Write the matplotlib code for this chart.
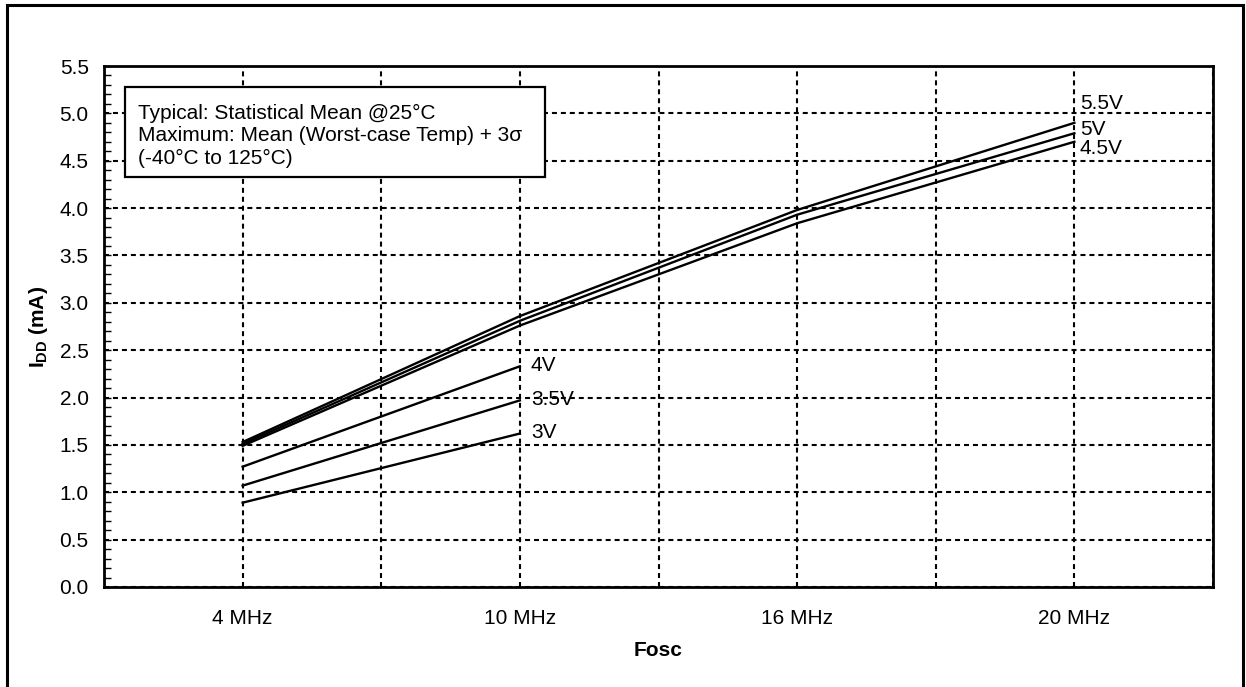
import numpy as np
import matplotlib
matplotlib.use("Agg")
import matplotlib.pyplot as plt
from matplotlib.patches import Rectangle
from matplotlib.ticker import MultipleLocator

plt.rcParams['font.family'] = ['Liberation Sans', 'DejaVu Sans']
plt.rcParams['mathtext.fontset'] = 'custom'
plt.rcParams['mathtext.rm'] = 'Liberation Sans'
plt.rcParams['mathtext.bf'] = 'Liberation Sans:bold'

# ---- data ----
freqs = ["4 MHz", "10 MHz", "16 MHz", "20 MHz"]

v55 = [1.53, 2.86, 3.98, 4.90]
v50 = [1.51, 2.81, 3.93, 4.79]
v45 = [1.49, 2.76, 3.84, 4.70]
v40 = [1.27, 2.33]
v35 = [1.07, 1.97]
v30 = [0.89, 1.62]

series = [("5.5V", v55), ("5V", v50), ("4.5V", v45),
          ("4V", v40), ("3.5V", v35), ("3V", v30)]
# label positions (data units) next to the line ends
label_pos = {"5.5V": (3.02, 5.10), "5V": (3.02, 4.83), "4.5V": (3.02, 4.63),
             "4V": (1.04, 2.34), "3.5V": (1.04, 1.98), "3V": (1.04, 1.63)}

FS = 15
W, H = 1246, 687
fig = plt.figure(figsize=(W / 100, H / 100), dpi=100)
ax = fig.add_axes([104 / W, 1 - 587 / H, (1213 - 104) / W, (587 - 66) / H])

x = np.arange(len(freqs))
for name, vals in series:
    ax.plot(x[:len(vals)], vals, color="black", lw=1.7, zorder=3)
    tx, ty = label_pos[name]
    ax.text(tx, ty, name, fontsize=FS, va="center", ha="left", zorder=4)

ax.set_xlim(-0.5, 3.5)
ax.set_ylim(0, 5.5)
ax.set_xticks(x)
ax.set_xticklabels(freqs)
ax.xaxis.set_minor_locator(MultipleLocator(0.5))
ax.yaxis.set_major_locator(MultipleLocator(0.5))
ax.yaxis.set_minor_locator(MultipleLocator(0.1))
ax.yaxis.set_major_formatter(matplotlib.ticker.FormatStrFormatter("%.1f"))

dots = (0, (2.4, 1.9))
ax.grid(True, axis="y", which="major", color="black", lw=1.5, linestyle=dots)
ax.grid(True, axis="x", which="both", color="black", lw=1.5, linestyle=dots)

ax.tick_params(axis="x", which="both", length=0, pad=16, labelsize=FS)
ax.tick_params(axis="y", which="both", direction="in", length=5, width=1,
               pad=11, labelsize=FS)
for s in ax.spines.values():
    s.set_linewidth(2)

ax.set_xlabel("Fosc", fontsize=FS, fontweight="bold")
ax.xaxis.set_label_coords(0.5, -0.103)
ax.set_ylabel(r"$\mathbf{I}$$\mathbf{_{DD}}$ (mA)", fontsize=FS,
              fontweight="bold")
ax.yaxis.set_label_coords(-0.049, 0.5)

# note box
ax.add_patch(Rectangle((0.019, 0.787), 0.379, 0.173, transform=ax.transAxes,
                       facecolor="white", edgecolor="black", lw=1.6, zorder=5))
ax.text(0.031, 0.866,
        "Typical: Statistical Mean @25°C\n"
        "Maximum: Mean (Worst-case Temp) + 3σ\n"
        "(-40°C to 125°C)",
        transform=ax.transAxes, fontsize=FS, va="center", ha="left",
        linespacing=1.25, zorder=6)

# outer frame of the figure
fig.patches.append(Rectangle((7 / W, -0.1), (1243 - 7) / W, 1.1 - 5 / H,
                             transform=fig.transFigure, fill=False,
                             edgecolor="black", lw=2.2))

fig.savefig("out.png", dpi=100)
